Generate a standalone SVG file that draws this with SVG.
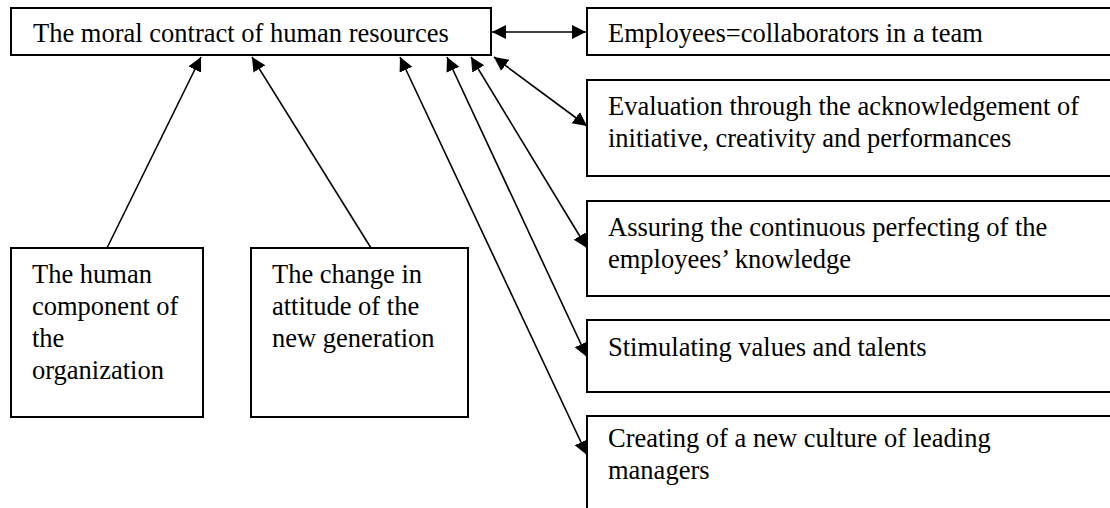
<svg xmlns="http://www.w3.org/2000/svg" width="1110" height="508" viewBox="0 0 1110 508">
<style>
.box{fill:#fff;stroke:#000;stroke-width:2}
.t{font-family:"Liberation Serif","Times New Roman",serif;font-size:26.5px;fill:#000}
.c{stroke:#000;stroke-width:1.6;fill:none}
</style>
<defs>
<marker id="ah" markerUnits="userSpaceOnUse" markerWidth="15" markerHeight="15" refX="14" refY="7" orient="auto-start-reverse" viewBox="0 0 15 15">
<path d="M0,0 L14,7 L0,14 z" fill="#000"/>
</marker>
</defs>
<rect width="1110" height="508" fill="#fff"/>
<g id="connectors">
<line class="c" x1="107" y1="248" x2="201" y2="57" marker-end="url(#ah)"/>
<line class="c" x1="371" y1="248" x2="252" y2="57" marker-end="url(#ah)"/>
<line class="c" x1="400" y1="57" x2="587" y2="455" marker-start="url(#ah)" marker-end="url(#ah)"/>
<line class="c" x1="447" y1="57" x2="587" y2="357" marker-start="url(#ah)" marker-end="url(#ah)"/>
<line class="c" x1="471" y1="57" x2="587" y2="248" marker-start="url(#ah)" marker-end="url(#ah)"/>
<line class="c" x1="494" y1="57" x2="587" y2="126" marker-start="url(#ah)" marker-end="url(#ah)"/>
<line class="c" x1="492" y1="32" x2="586" y2="32" marker-start="url(#ah)" marker-end="url(#ah)"/>
</g>
<g id="main">
<rect class="box" x="11" y="8" width="480" height="47"/>
<text class="t" x="33" y="42">The moral contract of human resources</text>
</g>
<g id="employees">
<rect class="box" x="587" y="8" width="540" height="47"/>
<text class="t" x="608" y="42">Employees=collaborators in a team</text>
</g>
<g id="evaluation">
<rect class="box" x="587" y="80" width="540" height="96"/>
<text class="t" x="608" y="115">Evaluation through the acknowledgement of</text>
<text class="t" x="608" y="147">initiative, creativity and performances</text>
</g>
<g id="assuring">
<rect class="box" x="587" y="201" width="540" height="95"/>
<text class="t" x="608" y="236">Assuring the continuous perfecting of the</text>
<text class="t" x="608" y="268">employees’ knowledge</text>
</g>
<g id="stimulating">
<rect class="box" x="587" y="320" width="540" height="72"/>
<text class="t" x="608" y="356">Stimulating values and talents</text>
</g>
<g id="creating">
<rect class="box" x="587" y="416" width="540" height="110"/>
<text class="t" x="608" y="447">Creating of a new culture of leading</text>
<text class="t" x="608" y="479">managers</text>
</g>
<g id="human">
<rect class="box" x="11" y="248" width="192" height="169"/>
<text class="t" x="32" y="283">The human</text>
<text class="t" x="32" y="315">component of</text>
<text class="t" x="32" y="347">the</text>
<text class="t" x="32" y="379">organization</text>
</g>
<g id="change">
<rect class="box" x="251" y="248" width="217" height="169"/>
<text class="t" x="272" y="283">The change in</text>
<text class="t" x="272" y="315">attitude of the</text>
<text class="t" x="272" y="347">new generation</text>
</g>
</svg>
